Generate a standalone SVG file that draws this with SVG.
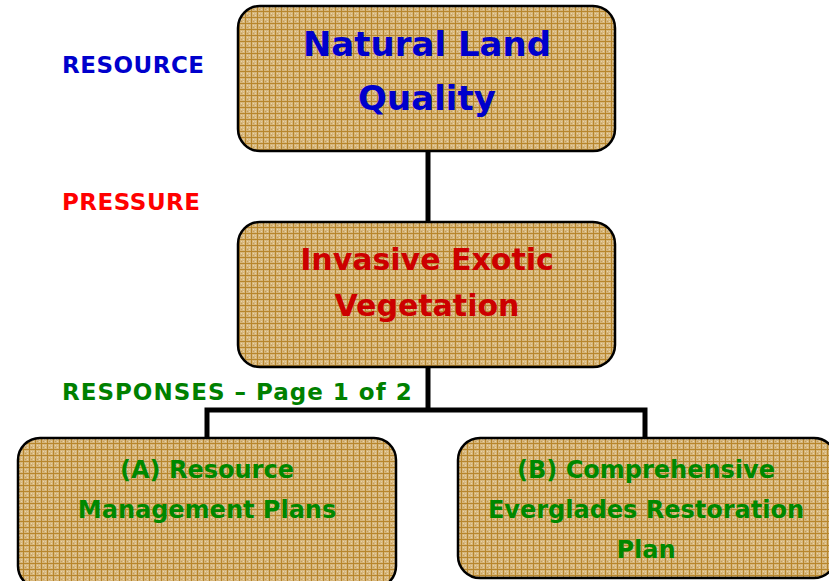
<svg xmlns="http://www.w3.org/2000/svg" width="829" height="581" viewBox="0 0 829 581">
<defs>
<pattern id="tex" x="0" y="0" width="6" height="6" patternUnits="userSpaceOnUse">
<rect width="6" height="6" fill="#d6b67c"/>
<rect x="1" y="1" width="1" height="1" fill="#ead6aa"/>
<rect x="3" y="3" width="1" height="1" fill="#ead6aa"/>
<rect x="3" y="1" width="1" height="1" fill="#e2caa0"/>
<rect x="1" y="3" width="1" height="1" fill="#c49c58"/>
<rect x="5" y="0" width="1" height="6" fill="#b8862c"/>
<rect x="0" y="5" width="6" height="1" fill="#b8862c"/>
</pattern>
<style>
.box{fill:url(#tex);stroke:#000;stroke-width:2.5}
.t{font-family:"DejaVu Sans","Liberation Sans",sans-serif;font-weight:bold;text-anchor:middle}
.lbl{font-family:"DejaVu Sans","Liberation Sans",sans-serif;font-weight:bold;font-size:23px;letter-spacing:0.5px}
.wide{letter-spacing:1px}
.conn{fill:none;stroke:#000;stroke-width:5}
</style>
</defs>
<g id="connectors">
<line class="conn" x1="428" y1="151" x2="428" y2="222"/>
<polyline class="conn" points="428,367 428,410"/>
<polyline class="conn" points="207,438 207,410 645,410 645,438"/>
</g>
<g id="labels">
<text class="lbl" x="62" y="73" fill="#0000cc">RESOURCE</text>
<text class="lbl" x="62" y="210" fill="#ff0000">PRESSURE</text>
<text class="lbl wide" x="62" y="400" fill="#008000">RESPONSES – Page 1 of 2</text>
</g>
<g id="node-natural">
<rect class="box" x="238" y="6" width="377" height="145" rx="22"/>
<text class="t" x="427" y="56" font-size="34" fill="#0000cc">Natural Land</text>
<text class="t" x="427" y="110" font-size="34" fill="#0000cc">Quality</text>
</g>
<g id="node-invasive">
<rect class="box" x="238" y="222" width="377" height="145" rx="22"/>
<text class="t" x="427" y="270" font-size="30" fill="#cc0000">Invasive Exotic</text>
<text class="t" x="427" y="316" font-size="30" fill="#cc0000">Vegetation</text>
</g>
<g id="node-a">
<rect class="box" x="18" y="438" width="378" height="150" rx="22"/>
<text class="t" x="207" y="478" font-size="24" fill="#008800">(A) Resource</text>
<text class="t" x="207" y="518" font-size="24" fill="#008800">Management Plans</text>
</g>
<g id="node-b">
<rect class="box" x="458" y="438" width="378" height="140" rx="22"/>
<text class="t" x="646" y="478" font-size="24" fill="#008800">(B) Comprehensive</text>
<text class="t" x="646" y="518" font-size="24" fill="#008800">Everglades Restoration</text>
<text class="t" x="646" y="558" font-size="24" fill="#008800">Plan</text>
</g>
</svg>
